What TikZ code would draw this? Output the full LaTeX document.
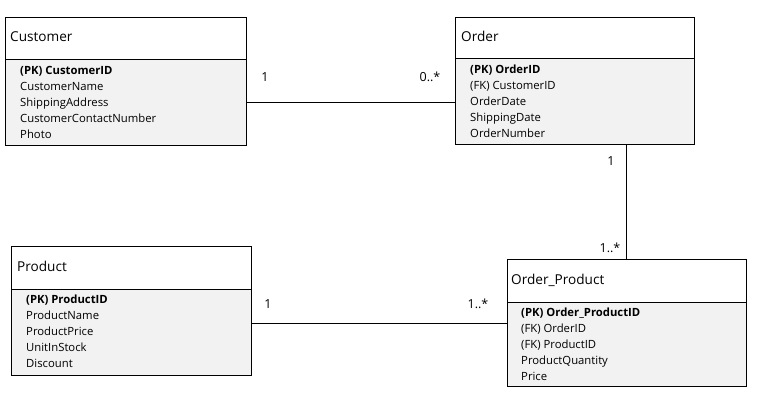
\documentclass[tikz,border=0pt]{standalone}
\usepackage{fontspec}
\setmainfont{Open Sans}
\begin{document}
\begin{tikzpicture}[x=1pt,y=-1pt,
  head/.style={draw=black,line width=0.9pt,fill=white,anchor=north west,inner sep=0pt,minimum width=#1},
  body/.style={draw=black,line width=0.9pt,fill=black!5,anchor=north west,inner sep=0pt,minimum width=#1},
  ttl/.style={anchor=base west,inner sep=0pt,font=\fontsize{13.6}{15}\selectfont},
  attr/.style={anchor=base west,inner sep=0pt,font=\fontsize{11.3}{13}\selectfont},
  mult/.style={anchor=base,inner sep=0pt,font=\fontsize{12.5}{14}\selectfont},
  conn/.style={draw=black,line width=0.9pt}]
\useasboundingbox (0,0) rectangle (761,407);
% Customer
\node[head=241pt,minimum height=42pt] (custhead) at (5,17) {};
\node[body=241pt,minimum height=86pt] (custbody) at (5,59) {};
\node[ttl] (custt) at (10,41.5) {Customer};
\node[attr] (c1) at (20,74.5) {\textbf{(PK) CustomerID}};
\node[attr] (c2) at (20,90.5) {CustomerName};
\node[attr] (c3) at (20,106.5) {ShippingAddress};
\node[attr] (c4) at (20,122.5) {CustomerContactNumber};
\node[attr] (c5) at (20,138.5) {Photo};
% Order
\node[head=239pt,minimum height=41pt] (ordhead) at (455,17) {};
\node[body=239pt,minimum height=86pt] (ordbody) at (455,58) {};
\node[ttl] (ordt) at (461,41.5) {Order};
\node[attr] (o1) at (470,73.5) {\textbf{(PK) OrderID}};
\node[attr] (o2) at (470,89.5) {(FK) CustomerID};
\node[attr] (o3) at (470,105.5) {OrderDate};
\node[attr] (o4) at (470,121.5) {ShippingDate};
\node[attr] (o5) at (470,137.5) {OrderNumber};
% Product
\node[head=240pt,minimum height=43pt] (prodhead) at (11,246) {};
\node[body=240pt,minimum height=86pt] (prodbody) at (11,289) {};
\node[ttl] (prodt) at (17,271.5) {Product};
\node[attr] (p1) at (26,303.5) {\textbf{(PK) ProductID}};
\node[attr] (p2) at (26,319.5) {ProductName};
\node[attr] (p3) at (26,335.5) {ProductPrice};
\node[attr] (p4) at (26,351.5) {UnitInStock};
\node[attr] (p5) at (26,367.5) {Discount};
% Order_Product
\node[head=239pt,minimum height=43pt] (ophead) at (507,259) {};
\node[body=239pt,minimum height=84pt] (opbody) at (507,302) {};
\node[ttl] (opt) at (511,284.5) {Order\_Product};
\node[attr] (q1) at (521,316.5) {\textbf{(PK) Order\_ProductID}};
\node[attr] (q2) at (521,332.5) {(FK) OrderID};
\node[attr] (q3) at (521,348.5) {(FK) ProductID};
\node[attr] (q4) at (521,364.5) {ProductQuantity};
\node[attr] (q5) at (521,380.5) {Price};
% connectors
\draw[conn] (custbody.east |- 0,102) -- (ordbody.west |- 0,102);
\draw[conn] (prodbody.east |- 0,323) -- (opbody.west |- 0,323);
\draw[conn] (ordbody.south -| 626,0) -- (ophead.north -| 626,0);
% multiplicities
\node[mult] (m1) at (265,81.5) {1};
\node[mult] (m2) at (430,81.5) {0..*};
\node[mult] (m3) at (611,165.5) {1};
\node[mult] (m4) at (610,252.5) {1..*};
\node[mult] (m5) at (268,308.5) {1};
\node[mult] (m6) at (478,308.5) {1..*};
\end{tikzpicture}
\end{document}
